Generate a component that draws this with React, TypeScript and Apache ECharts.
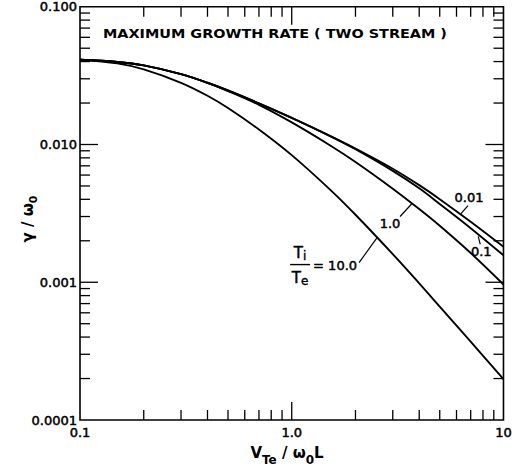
import React, { useEffect, useRef } from 'react';
import * as echarts from 'echarts';

// ---- data ----
const xValues = [0.1, 0.15, 0.2, 0.3, 0.4, 0.5, 0.7, 1.0, 1.5, 2, 3, 4, 5, 7, 10];
const ratio001 = [0.0412, 0.03973, 0.03751, 0.03241, 0.02807, 0.02466, 0.01989, 0.0156, 0.01165, 0.00934, 0.00667, 0.00507, 0.00401, 0.00275, 0.00181];
const ratio01 = [0.0412, 0.03973, 0.03751, 0.03241, 0.02807, 0.02466, 0.01989, 0.0156, 0.0116, 0.00923, 0.00643, 0.00481, 0.0037, 0.00247, 0.00157];
const ratio1 = [0.0412, 0.03973, 0.03751, 0.03241, 0.02800, 0.02443, 0.01938, 0.01446, 0.00996, 0.00747, 0.00478, 0.0034, 0.00257, 0.00163, 0.000963];
const ratio10 = [0.0412, 0.03878, 0.03506, 0.02805, 0.0226, 0.01841, 0.01285, 0.00837, 0.00478, 0.00309, 0.0016, 0.000982, 0.000666, 0.00037, 0.000198];

const xLabelValues = [0.1, 1, 10];
const xLabelTexts = ['0.1', '1.0', '10'];
const yLabelValues = [0.0001, 0.001, 0.01, 0.1];
const yLabelTexts = ['0.0001', '0.001', '0.010', '0.100'];

const xMinorTicks = [0.2, 0.3, 0.4, 0.5, 0.6, 0.7, 0.8, 0.9, 2, 3, 4, 5, 6, 7, 8, 9];
const xMajorTicks = [1];
const yMinorTicks = [
  0.0002, 0.0003, 0.0004, 0.0005, 0.0006, 0.0007, 0.0008, 0.0009,
  0.002, 0.003, 0.004, 0.005, 0.006, 0.007, 0.008, 0.009,
  0.02, 0.03, 0.04, 0.05, 0.06, 0.07, 0.08, 0.09,
];
const yMajorTicks = [0.001, 0.01];

const X_MIN = 0.1, X_MAX = 10, Y_MIN = 0.0001, Y_MAX = 0.1;

const TITLE = 'MAXIMUM GROWTH RATE ( TWO STREAM )';
const FONT = '"DejaVu Sans", "Liberation Sans", sans-serif';

function labelFor(v: number, vals: number[], texts: string[]) {
  for (let i = 0; i < vals.length; i++) {
    if (Math.abs(Math.log10(v) - Math.log10(vals[i])) < 1e-6) return texts[i];
  }
  return '';
}

function interpLog(xs: number[], ys: number[], x: number) {
  const lx = Math.log10(x);
  for (let i = 0; i < xs.length - 1; i++) {
    const a = Math.log10(xs[i]), b = Math.log10(xs[i + 1]);
    if (lx >= a && lx <= b) {
      const t = (lx - a) / (b - a);
      return Math.pow(10, Math.log10(ys[i]) + t * (Math.log10(ys[i + 1]) - Math.log10(ys[i])));
    }
  }
  return ys[ys.length - 1];
}

export default function App() {
  const ref = useRef<HTMLDivElement>(null);

  useEffect(() => {
    const el = ref.current!;
    const chart = echarts.init(el, null, { renderer: 'svg' });

    const tickData: number[][] = [];
    xMinorTicks.forEach((v) => { tickData.push([v, Y_MIN, 0, 0]); tickData.push([v, Y_MAX, 1, 0]); });
    xMajorTicks.forEach((v) => { tickData.push([v, Y_MIN, 0, 1]); tickData.push([v, Y_MAX, 1, 1]); });
    yMinorTicks.forEach((v) => { tickData.push([X_MIN, v, 2, 0]); tickData.push([X_MAX, v, 3, 0]); });
    yMajorTicks.forEach((v) => { tickData.push([X_MIN, v, 2, 1]); tickData.push([X_MAX, v, 3, 1]); });

    const curve = (name: string, ys: number[]) => ({
      name,
      type: 'line',
      data: xValues.map((x, i) => [x, ys[i]]),
      smooth: 0.35,
      showSymbol: false,
      symbol: 'none',
      lineStyle: { color: '#000', width: 1.9 },
      z: 3,
    });

    chart.setOption({
      animation: false,
      backgroundColor: '#fff',
      grid: {
        left: 80, top: 5, width: 425, height: 415,
        show: true, borderColor: '#000', borderWidth: 1.6, backgroundColor: 'transparent',
      },
      xAxis: {
        type: 'log', logBase: 10, min: X_MIN, max: X_MAX, splitNumber: 2,
        axisLine: { show: false }, axisTick: { show: false }, splitLine: { show: false },
        axisLabel: {
          showMinLabel: true, showMaxLabel: true, margin: 6,
          color: '#000', fontFamily: FONT, fontSize: 13,
          textBorderColor: '#000', textBorderWidth: 0.5,
          formatter: (v: number) => labelFor(v, xLabelValues, xLabelTexts),
        },
      },
      yAxis: {
        type: 'log', logBase: 10, min: Y_MIN, max: Y_MAX, splitNumber: 3,
        axisLine: { show: false }, axisTick: { show: false }, splitLine: { show: false },
        axisLabel: {
          showMinLabel: true, showMaxLabel: true, margin: 3,
          color: '#000', fontFamily: FONT, fontSize: 13,
          textBorderColor: '#000', textBorderWidth: 0.5,
          formatter: (v: number) => labelFor(v, yLabelValues, yLabelTexts),
        },
      },
      series: [
        curve('Ti/Te = 0.01', ratio001),
        curve('Ti/Te = 0.1', ratio01),
        curve('Ti/Te = 1.0', ratio1),
        curve('Ti/Te = 10.0', ratio10),
        {
          type: 'custom',
          silent: true,
          clip: false,
          z: 4,
          dimensions: ['x', 'y', 'side', 'major'],
          encode: { x: 0, y: 1 },
          data: tickData,
          renderItem: (_params: any, api: any) => {
            const p = api.coord([api.value(0), api.value(1)]);
            const side = api.value(2);
            const len = api.value(3) ? 18 : 10;
            let x2 = p[0], y2 = p[1];
            if (side === 0) y2 -= len;
            else if (side === 1) y2 += len;
            else if (side === 2) x2 += len;
            else x2 -= len;
            return {
              type: 'line',
              shape: { x1: p[0], y1: p[1], x2, y2 },
              style: { stroke: '#000', lineWidth: 1.3 },
            };
          },
        },
      ],
    });

    // ---- annotations anchored on the curves ----
    const px = (x: number, y: number) => chart.convertToPixel({ gridIndex: 0 }, [x, y]) as number[];
    const txt = { fill: '#000', fontFamily: FONT, stroke: '#000', lineWidth: 0.5 };
    const lineStyle = { stroke: '#000', lineWidth: 1.2 };

    const ctx = document.createElement('canvas').getContext('2d')!;
    ctx.font = 'bold 12.5px "DejaVu Sans"';
    const tw = ctx.measureText(TITLE).width || 344;
    const titleScale = 344 / tw;

    const a001 = px(6.3, interpLog(xValues, ratio001, 6.3));
    const a01 = px(7.6, interpLog(xValues, ratio01, 7.6));
    const a1 = px(3.7, interpLog(xValues, ratio1, 3.7));
    const a10 = px(2.53, interpLog(xValues, ratio10, 2.53));

    const fracRich = {
      m: { fontSize: 15, fontFamily: FONT, lineHeight: 18, fill: '#000', stroke: '#000', lineWidth: 0.5 },
      s: { fontSize: 12, fontFamily: FONT, lineHeight: 14, verticalAlign: 'bottom', fill: '#000', stroke: '#000', lineWidth: 0.4 },
    };

    const graphic: any[] = [
      {
        type: 'text', x: 103, y: 33, scaleX: titleScale,
        style: { text: TITLE, fontSize: 12.5, fontWeight: 'bold', fontFamily: FONT, fill: '#000', align: 'left', verticalAlign: 'middle' },
      },
      {
        type: 'text', x: 28, y: 219, rotation: Math.PI / 2,
        style: {
          text: '{m|γ / ω}{s|0}', align: 'center', verticalAlign: 'middle', fill: '#000',
          rich: {
            m: { fontSize: 15, fontWeight: 'bold', fontFamily: FONT, lineHeight: 22, fill: '#000' },
            s: { fontSize: 11, fontWeight: 'bold', fontFamily: FONT, lineHeight: 12, verticalAlign: 'bottom', fill: '#000' },
          },
        },
      },
      {
        type: 'text', x: 287, y: 453,
        style: {
          text: '{m|V}{s|Te}{m| / ω}{s|0}{m|L}', align: 'center', verticalAlign: 'middle', fill: '#000',
          rich: {
            m: { fontSize: 15, fontWeight: 'bold', fontFamily: FONT, lineHeight: 26, fill: '#000' },
            s: { fontSize: 12, fontWeight: 'bold', fontFamily: FONT, lineHeight: 13, verticalAlign: 'bottom', fill: '#000' },
          },
        },
      },
      // 0.01
      { type: 'line', shape: { x1: a001[0], y1: a001[1] - 1, x2: a001[0] + 7, y2: a001[1] - 9 }, style: lineStyle },
      { type: 'text', x: a001[0] + 8, y: a001[1] - 17, style: { ...txt, text: '0.01', fontSize: 13, align: 'center', verticalAlign: 'middle' } },
      // 0.1
      { type: 'line', shape: { x1: a01[0], y1: a01[1] + 2, x2: a01[0] + 2, y2: a01[1] + 10 }, style: lineStyle },
      { type: 'text', x: a01[0] + 3, y: a01[1] + 17, style: { ...txt, text: '0.1', fontSize: 13, align: 'center', verticalAlign: 'middle' } },
      // 1.0
      { type: 'line', shape: { x1: a1[0], y1: a1[1], x2: a1[0] - 12, y2: a1[1] + 13 }, style: lineStyle },
      { type: 'text', x: a1[0] - 22, y: a1[1] + 20, style: { ...txt, text: '1.0', fontSize: 13, align: 'center', verticalAlign: 'middle' } },
      // 10.0
      { type: 'line', shape: { x1: a10[0], y1: a10[1], x2: a10[0] - 18, y2: a10[1] + 25 }, style: lineStyle },
      { type: 'text', x: a10[0] - 64, y: a10[1] + 28, style: { ...txt, text: '= 10.0', fontSize: 13, align: 'left', verticalAlign: 'middle' } },
      {
        type: 'text', x: a10[0] - 77, y: a10[1] + 15,
        style: { text: '{m|T}{s|i}', align: 'center', verticalAlign: 'middle', fill: '#000', rich: fracRich },
      },
      { type: 'line', shape: { x1: a10[0] - 87, y1: a10[1] + 27, x2: a10[0] - 67, y2: a10[1] + 27 }, style: { stroke: '#000', lineWidth: 1.4 } },
      {
        type: 'text', x: a10[0] - 77, y: a10[1] + 40,
        style: { text: '{m|T}{s|e}', align: 'center', verticalAlign: 'middle', fill: '#000', rich: fracRich },
      },
    ];

    chart.setOption({ graphic });

    return () => chart.dispose();
  }, []);

  return (
    <div
      ref={ref}
      style={{ position: 'fixed', left: 0, top: 0, width: 515, height: 470, background: '#fff' }}
    />
  );
}
